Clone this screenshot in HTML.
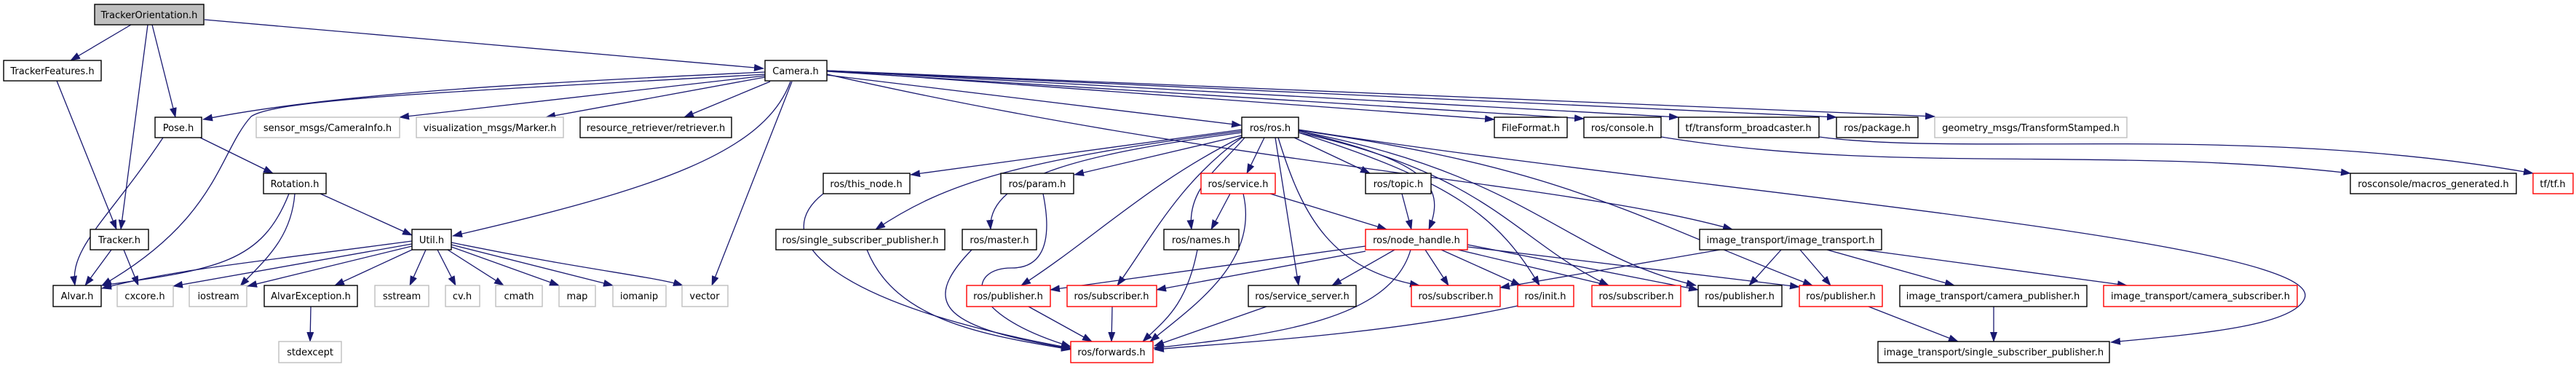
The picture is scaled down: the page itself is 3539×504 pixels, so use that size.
<!DOCTYPE html>
<html><head><meta charset="utf-8"><style>
html,body{margin:0;padding:0;background:#fff;}
svg{display:block;}
text{font-family:"DejaVu Sans","Liberation Sans",sans-serif;font-size:13px;fill:#000;text-anchor:middle;}
.b{fill:#fff;stroke:#000;stroke-width:1.4;}
.g{fill:#fff;stroke:#bfbfbf;stroke-width:1.4;}
.r{fill:#fff;stroke:#ff0000;stroke-width:1.4;}
.e{fill:none;stroke:#191970;stroke-width:1.3;marker-end:url(#a);}
</style></head><body>
<svg width="3539" height="504" viewBox="0 0 3539 504" xmlns="http://www.w3.org/2000/svg">
<defs><marker id="a" markerUnits="userSpaceOnUse" markerWidth="14" markerHeight="10" refX="13" refY="5" orient="auto"><path d="M0,0 L14,5 L0,10 z" fill="#191970"/></marker></defs>

<path class="e" d="M180,34 L97,83"/>
<path class="e" d="M203,34 L166,315"/>
<path class="e" d="M209,34 L241,161"/>
<path class="e" d="M281,27 L1049,94"/>
<path class="e" d="M78,111 L160,315"/>
<path class="e" d="M1051,99 C700,115 450,130 279,164"/>
<path class="e" d="M1051,102 C650,125 380,135 345,160 C300,210 300,300 140,392"/>
<path class="e" d="M1051,104 L549,161"/>
<path class="e" d="M1051,106 L750,161"/>
<path class="e" d="M1058,112 L940,161"/>
<path class="e" d="M1086,112 C1050,210 900,260 622,324"/>
<path class="e" d="M1088,112 L978,392"/>
<path class="e" d="M1136,103 L1705,172"/>
<path class="e" d="M1136,97 L2053,164"/>
<path class="e" d="M1136,98 L2176,163"/>
<path class="e" d="M1136,97 L2306,161"/>
<path class="e" d="M1136,97 L2523,161"/>
<path class="e" d="M1136,97 L2658,160"/>
<path class="e" d="M1136,102 C1700,230 2150,250 2380,315"/>
<path class="e" d="M224,189 C150,300 95,340 103,392"/>
<path class="e" d="M275,189 L375,238"/>
<path class="e" d="M397,266 C360,360 300,370 140,392"/>
<path class="e" d="M405,266 C400,330 360,360 330,393"/>
<path class="e" d="M440,266 L566,323"/>
<path class="e" d="M153,343 L117,392"/>
<path class="e" d="M170,343 L190,392"/>
<path class="e" d="M566,331 C350,360 240,370 140,396"/>
<path class="e" d="M566,335 L238,393"/>
<path class="e" d="M566,338 L340,393"/>
<path class="e" d="M566,343 L460,392"/>
<path class="e" d="M585,343 L563,392"/>
<path class="e" d="M601,343 L626,392"/>
<path class="e" d="M615,343 L692,392"/>
<path class="e" d="M620,339 L768,392"/>
<path class="e" d="M620,336 L842,392"/>
<path class="e" d="M620,333 C800,370 900,380 938,392"/>
<path class="e" d="M427,421 L426,469"/>
<path class="e" d="M1706,178 L1251,240"/>
<path class="e" d="M1706,180 C1400,220 1300,250 1203,315"/>
<path class="e" d="M1706,182 C1500,210 1355,240 1361,315"/>
<path class="e" d="M1706,186 L1476,240"/>
<path class="e" d="M1706,188 C1580,250 1500,330 1403,392"/>
<path class="e" d="M1706,189 C1620,250 1580,330 1535,392"/>
<path class="e" d="M1710,189 C1675,230 1630,260 1637,315"/>
<path class="e" d="M1737,189 L1713,238"/>
<path class="e" d="M1752,189 L1784,392"/>
<path class="e" d="M1756,189 C1790,300 1830,370 1950,392"/>
<path class="e" d="M1778,189 L1882,238"/>
<path class="e" d="M1784,180 C1950,220 1990,250 1963,315"/>
<path class="e" d="M1784,182 C2000,250 2060,300 2115,392"/>
<path class="e" d="M1784,182 C2050,240 2080,330 2210,392"/>
<path class="e" d="M1784,180 C2100,240 2150,350 2330,392"/>
<path class="e" d="M1784,179 C2150,230 2250,300 2490,392"/>
<path class="e" d="M1784,178 C2300,260 3200,330 3166,410 C3150,450 3000,460 2900,470"/>
<path class="e" d="M2282,188 C2600,240 2900,200 3229,238"/>
<path class="e" d="M2499,188 C2700,215 3100,170 3480,238"/>
<path class="e" d="M1131,266 C1050,330 1150,420 1471,478"/>
<path class="e" d="M1191,343 C1230,440 1350,460 1471,480"/>
<path class="e" d="M1335,343 C1260,420 1300,450 1471,479"/>
<path class="e" d="M1433,266 C1450,350 1420,368 1390,368 C1330,368 1320,430 1471,476"/>
<path class="e" d="M1690,266 L1664,315"/>
<path class="e" d="M1745,266 L1905,315"/>
<path class="e" d="M1708,266 C1730,360 1640,420 1580,469"/>
<path class="e" d="M1926,266 L1939,315"/>
<path class="e" d="M1645,343 C1630,420 1600,440 1570,469"/>
<path class="e" d="M1876,338 L1443,398"/>
<path class="e" d="M1876,345 L1589,398"/>
<path class="e" d="M1916,343 L1830,392"/>
<path class="e" d="M1938,343 C1910,440 1750,460 1585,478"/>
<path class="e" d="M1958,343 L1990,392"/>
<path class="e" d="M1980,343 L2089,392"/>
<path class="e" d="M2003,343 L2210,392"/>
<path class="e" d="M2016,336 L2333,398"/>
<path class="e" d="M2016,339 L2472,394"/>
<path class="e" d="M1413,421 L1500,469"/>
<path class="e" d="M1528,421 L1527,469"/>
<path class="e" d="M1740,421 L1586,475"/>
<path class="e" d="M2085,420 C1900,460 1700,470 1586,480"/>
<path class="e" d="M2447,343 L2403,392"/>
<path class="e" d="M2473,343 L2515,392"/>
<path class="e" d="M2510,343 L2685,392"/>
<path class="e" d="M2560,343 L2922,392"/>
<path class="e" d="M2363,343 L2061,395"/>
<path class="e" d="M2567,421 L2690,469"/>
<path class="e" d="M2739,421 L2739,469"/>

<rect x="130" y="6" width="150" height="28" fill="#bfbfbf" stroke="#000" stroke-width="1.4"/><text x="205" y="25">TrackerOrientation.h</text>
<rect class="b" x="5" y="83" width="134" height="28"/><text x="72" y="102">TrackerFeatures.h</text>
<rect class="b" x="1051" y="83" width="85" height="28"/><text x="1093" y="102">Camera.h</text>
<rect class="b" x="213" y="161" width="64" height="28"/><text x="245" y="180">Pose.h</text>
<rect class="g" x="352" y="161" width="197" height="28"/><text x="450" y="180">sensor_msgs/CameraInfo.h</text>
<rect class="g" x="572" y="161" width="202" height="28"/><text x="673" y="180">visualization_msgs/Marker.h</text>
<rect class="b" x="797" y="161" width="208" height="28"/><text x="901" y="180">resource_retriever/retriever.h</text>
<rect class="b" x="1706" y="161" width="78" height="28"/><text x="1745" y="180">ros/ros.h</text>
<rect class="b" x="2053" y="161" width="100" height="28"/><text x="2103" y="180">FileFormat.h</text>
<rect class="b" x="2176" y="161" width="106" height="28"/><text x="2229" y="180">ros/console.h</text>
<rect class="b" x="2306" y="161" width="193" height="28"/><text x="2402" y="180">tf/transform_broadcaster.h</text>
<rect class="b" x="2523" y="161" width="112" height="28"/><text x="2579" y="180">ros/package.h</text>
<rect class="g" x="2658" y="161" width="264" height="28"/><text x="2790" y="180">geometry_msgs/TransformStamped.h</text>
<rect class="b" x="362" y="238" width="86" height="28"/><text x="405" y="257">Rotation.h</text>
<rect class="b" x="1131" y="238" width="119" height="28"/><text x="1190" y="257">ros/this_node.h</text>
<rect class="b" x="1375" y="238" width="100" height="28"/><text x="1425" y="257">ros/param.h</text>
<rect class="r" x="1650" y="238" width="102" height="28"/><text x="1701" y="257">ros/service.h</text>
<rect class="b" x="1876" y="238" width="90" height="28"/><text x="1921" y="257">ros/topic.h</text>
<rect class="b" x="3229" y="238" width="228" height="28"/><text x="3343" y="257">rosconsole/macros_generated.h</text>
<rect class="r" x="3480" y="238" width="55" height="28"/><text x="3507" y="257">tf/tf.h</text>
<rect class="b" x="124" y="315" width="80" height="28"/><text x="164" y="334">Tracker.h</text>
<rect class="b" x="566" y="315" width="54" height="28"/><text x="593" y="334">Util.h</text>
<rect class="b" x="1066" y="315" width="232" height="28"/><text x="1182" y="334">ros/single_subscriber_publisher.h</text>
<rect class="b" x="1322" y="315" width="102" height="28"/><text x="1373" y="334">ros/master.h</text>
<rect class="b" x="1599" y="315" width="103" height="28"/><text x="1650" y="334">ros/names.h</text>
<rect class="r" x="1876" y="315" width="140" height="28"/><text x="1946" y="334">ros/node_handle.h</text>
<rect class="b" x="2335" y="315" width="250" height="28"/><text x="2460" y="334">image_transport/image_transport.h</text>
<rect class="b" x="73" y="392" width="66" height="29"/><text x="106" y="411">Alvar.h</text>
<rect class="g" x="161" y="392" width="77" height="29"/><text x="199" y="411">cxcore.h</text>
<rect class="g" x="260" y="392" width="79" height="29"/><text x="300" y="411">iostream</text>
<rect class="b" x="363" y="392" width="128" height="29"/><text x="427" y="411">AlvarException.h</text>
<rect class="g" x="515" y="392" width="74" height="29"/><text x="552" y="411">sstream</text>
<rect class="g" x="612" y="392" width="47" height="29"/><text x="635" y="411">cv.h</text>
<rect class="g" x="681" y="392" width="64" height="29"/><text x="713" y="411">cmath</text>
<rect class="g" x="768" y="392" width="50" height="29"/><text x="793" y="411">map</text>
<rect class="g" x="842" y="392" width="73" height="29"/><text x="878" y="411">iomanip</text>
<rect class="g" x="937" y="392" width="63" height="29"/><text x="968" y="411">vector</text>
<rect class="r" x="1328" y="392" width="115" height="29"/><text x="1385" y="411">ros/publisher.h</text>
<rect class="r" x="1466" y="392" width="123" height="29"/><text x="1527" y="411">ros/subscriber.h</text>
<rect class="b" x="1715" y="392" width="148" height="29"/><text x="1789" y="411">ros/service_server.h</text>
<rect class="r" x="1939" y="392" width="122" height="29"/><text x="2000" y="411">ros/subscriber.h</text>
<rect class="r" x="2085" y="392" width="77" height="29"/><text x="2123" y="411">ros/init.h</text>
<rect class="r" x="2187" y="392" width="122" height="29"/><text x="2248" y="411">ros/subscriber.h</text>
<rect class="b" x="2333" y="392" width="115" height="29"/><text x="2390" y="411">ros/publisher.h</text>
<rect class="r" x="2472" y="392" width="114" height="29"/><text x="2529" y="411">ros/publisher.h</text>
<rect class="b" x="2610" y="392" width="257" height="29"/><text x="2738" y="411">image_transport/camera_publisher.h</text>
<rect class="r" x="2890" y="392" width="266" height="29"/><text x="3023" y="411">image_transport/camera_subscriber.h</text>
<rect class="g" x="383" y="469" width="86" height="29"/><text x="426" y="488">stdexcept</text>
<rect class="r" x="1471" y="469" width="113" height="29"/><text x="1527" y="488">ros/forwards.h</text>
<rect class="b" x="2580" y="469" width="318" height="29"/><text x="2739" y="488">image_transport/single_subscriber_publisher.h</text>
</svg>
</body></html>
